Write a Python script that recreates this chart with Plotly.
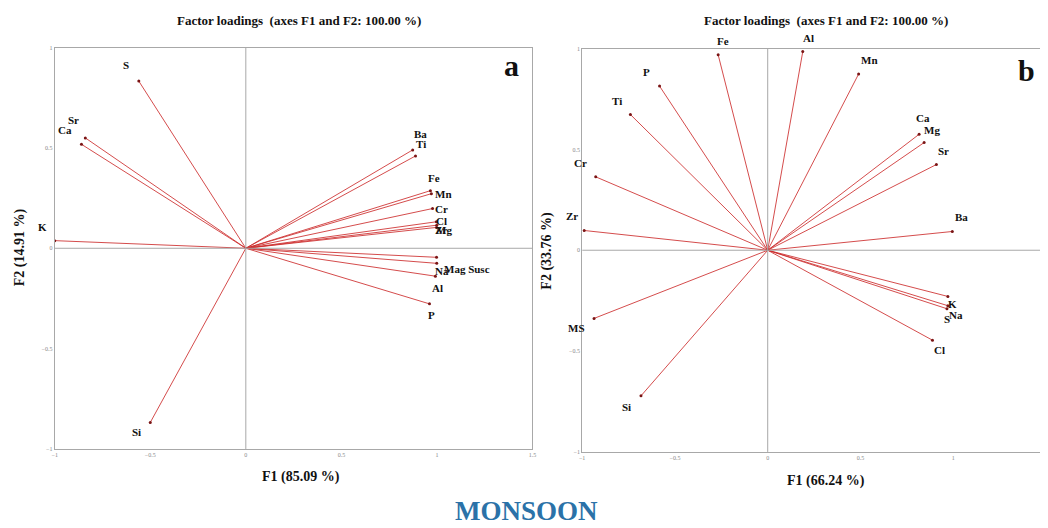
import plotly.graph_objects as go

# ---------- DATA ----------
# Panel a (Monsoon, F1 85.09 %, F2 14.91 %)
a_vars = ["S", "Sr", "Ca", "K", "Si", "Ba", "Ti", "Fe", "Mn", "Cr", "Cl", "Mg", "Zr",
          "Na", "Mag Susc", "Al", "P"]
a_f1 = [-0.56, -0.84, -0.86, -1.00, -0.50, 0.873, 0.888, 0.966, 0.971, 0.977, 0.997, 0.999, 0.998,
        0.999, 0.998, 0.992, 0.961]
a_f2 = [0.833, 0.55, 0.518, 0.038, -0.868, 0.49, 0.46, 0.287, 0.272, 0.198, 0.132, 0.115, 0.104,
        -0.075, -0.045, -0.139, -0.277]

# Panel b (F1 66.24 %, F2 33.76 %)
b_vars = ["Fe", "Al", "Mn", "P", "Ti", "Ca", "Mg", "Sr", "Cr", "Zr", "Ba", "K", "Na", "S",
          "Cl", "MS", "Si"]
b_f1 = [-0.267, 0.189, 0.49, -0.583, -0.74, 0.816, 0.843, 0.909, -0.927, -0.989, 0.995, 0.971,
        0.971, 0.966, 0.888, -0.936, -0.683]
b_f2 = [0.969, 0.985, 0.874, 0.814, 0.673, 0.575, 0.534, 0.425, 0.364, 0.098, 0.093, -0.229,
        -0.275, -0.29, -0.446, -0.338, -0.722]

x_ticks = [-1, -0.5, 0, 0.5, 1, 1.5]
y_ticks = [-1, -0.5, 0, 0.5, 1]

title_text = "Factor loadings  (axes F1 and F2: 100.00 %)"
a_xlabel, a_ylabel = "F1 (85.09 %)", "F2 (14.91 %)"
b_xlabel, b_ylabel = "F1 (66.24 %)", "F2 (33.76 %)"
season = "MONSOON"

# ---------- STYLE (label pixel offsets: dx, dy screen-up) ----------
a_off = {"S": (-13, 16), "Sr": (-12, 18), "Ca": (-16, 14), "K": (-12, 14), "Si": (-14, -10),
         "Ba": (8, 16), "Ti": (5, 12), "Fe": (4, 13), "Mn": (12, 0), "Cr": (9, 0), "Cl": (5, 1),
         "Mg": (7, -5), "Zr": (4, -3), "Na": (5, -8), "Mag Susc": (30, -12), "Al": (2, -12),
         "P": (2, -11)}
b_off = {"Fe": (5, 14), "Al": (6, 14), "Mn": (11, 14), "P": (-13, 14), "Ti": (-13, 14),
         "Ca": (4, 16), "Mg": (8, 13), "Sr": (7, 14), "Cr": (-15, 14), "Zr": (-12, 14),
         "Ba": (9, 14), "K": (5, -8), "Na": (8, -9), "S": (0, -10), "Cl": (7, -10),
         "MS": (-18, -10), "Si": (-14, -11)}

LINE = "rgba(205,45,45,0.85)"
MARK = "#7a1515"
SERIF = "Liberation Serif"
GRID = "#a8a8a8"
W, H = 1048, 528
PAD = 8  # page body margin in the browser

fig = go.Figure()


def add_panel(vars_, f1, f2, xa, ya, offs):
    xs, ys = [], []
    for x, y in zip(f1, f2):
        xs += [0, x, None]
        ys += [0, y, None]
    fig.add_trace(go.Scatter(x=xs, y=ys, mode="lines", xaxis=xa, yaxis=ya,
                             line=dict(color=LINE, width=1), hoverinfo="skip",
                             showlegend=False))
    fig.add_trace(go.Scatter(x=f1, y=f2, mode="markers", xaxis=xa, yaxis=ya, text=vars_,
                             marker=dict(color=MARK, size=3), showlegend=False))
    fig.add_trace(go.Scatter(x=[0, 0], y=[-1, 1], mode="lines", xaxis=xa, yaxis=ya,
                             line=dict(color=GRID, width=1), hoverinfo="skip", showlegend=False))
    fig.add_trace(go.Scatter(x=[-1, 1.5], y=[0, 0], mode="lines", xaxis=xa, yaxis=ya,
                             line=dict(color=GRID, width=1), hoverinfo="skip", showlegend=False))
    for v, x, y in zip(vars_, f1, f2):
        dx, dy = offs[v]
        fig.add_annotation(x=x, y=y, xref=xa, yref=ya, text=f"<b>{v}</b>", showarrow=False,
                           xshift=dx, yshift=dy,
                           font=dict(family=SERIF, size=11, color="#111"))


add_panel(a_vars, a_f1, a_f2, "x", "y", a_off)
add_panel(b_vars, b_f1, b_f2, "x2", "y2", b_off)

axis_common = dict(range=[-1, 1.5], tickvals=x_ticks, showgrid=False, zeroline=False,
                   showline=True, linecolor=GRID, linewidth=1, mirror=True,
                   tickfont=dict(family=SERIF, size=6, color="#888"), ticks="")
yaxis_common = dict(range=[-1, 1], tickvals=y_ticks, showgrid=False, zeroline=False,
                    showline=True, linecolor=GRID, linewidth=1, mirror=True,
                    tickfont=dict(family=SERIF, size=6, color="#888"), ticks="")


def px_x(X):
    return (X - PAD) / W


def px_y(Y):
    return 1 - (Y - PAD) / H


fig.update_layout(
    width=W, height=H,
    margin=dict(l=0, r=0, t=0, b=0),
    paper_bgcolor="white", plot_bgcolor="white",
    xaxis=dict(domain=[px_x(52), px_x(533)], anchor="y", **axis_common),
    yaxis=dict(domain=[px_y(451), px_y(45)], anchor="x", **yaxis_common),
    xaxis2=dict(domain=[px_x(583), px_x(1050)], anchor="y2", **axis_common),
    yaxis2=dict(domain=[px_y(454), px_y(46)], anchor="x2", **yaxis_common),
)


def ptext(x, y, text, size, color="#111", angle=0):
    fig.add_annotation(x=px_x(x), y=px_y(y), xref="paper", yref="paper",
                       text=f"<b>{text}</b>", showarrow=False,
                       textangle=angle, xanchor="center", yanchor="middle",
                       font=dict(family=SERIF, size=size, color=color))


ptext(298, 18, title_text, 13)
ptext(828, 18, title_text, 13)
ptext(300, 479, a_xlabel, 14)
ptext(828, 483, b_xlabel, 14)
ptext(17, 247, a_ylabel, 14, angle=-90)
ptext(548, 250, b_ylabel, 14, angle=-90)
ptext(512, 63, "a", 30)
ptext(1030, 68, "b", 30)
ptext(527, 514, season, 27, color="#2b72a8")

fig.write_html("out.html")
